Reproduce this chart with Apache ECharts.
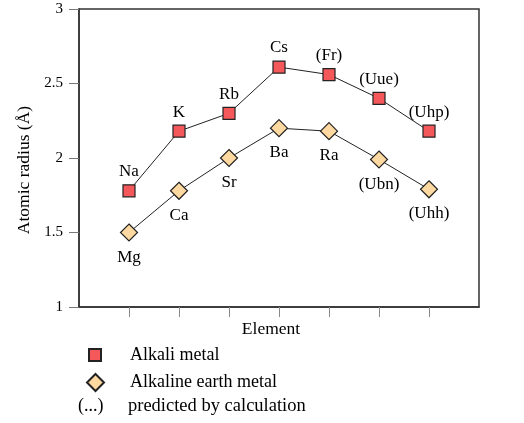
<!DOCTYPE html>
<html lang="en">
<head>
<meta charset="UTF-8">
<title>Atomic radius</title>
<script src="https://cdn.jsdelivr.net/npm/echarts@6/dist/echarts.min.js"></script>
<style>
html, body { margin: 0; padding: 0; background: #fff; }
#main { width: 524px; height: 423px; }
</style>
</head>
<body>
<div id="main"></div>
<script>
// slots 0 and 8 are empty padding on the category axis
var slots = ['', '1', '2', '3', '4', '5', '6', '7', ''];
var alkaliNames = ['Na', 'K', 'Rb', 'Cs', '(Fr)', '(Uue)', '(Uhp)'];
var alkaliRadius = [1.78, 2.18, 2.30, 2.61, 2.56, 2.40, 2.18];
var earthNames = ['Mg', 'Ca', 'Sr', 'Ba', 'Ra', '(Ubn)', '(Uhh)'];
var earthRadius = [1.50, 1.78, 2.00, 2.20, 2.18, 1.99, 1.79];

var font = 'Liberation Serif';

function toPoints(names, vals) {
    var out = [];
    for (var i = 0; i < vals.length; i++) {
        out.push({ value: [i + 1, vals[i]], name: names[i] });
    }
    return out;
}

var myChart = echarts.init(document.getElementById('main'));

var option = {
    animation: false,
    textStyle: { fontFamily: font, color: '#000' },
    grid: {
        left: 79, top: 9, width: 400, height: 298,
        show: true, borderColor: '#333', borderWidth: 1.5
    },
    legend: [
        {
            orient: 'vertical', left: 88, top: 346, padding: 0,
            itemWidth: 12, itemHeight: 12,
            data: [{ name: 'Alkali metal', icon: 'rect' }],
            textStyle: { fontFamily: font, fontSize: 18, color: '#000', padding: [0, 0, 0, 24] }
        },
        {
            orient: 'vertical', left: 86, top: 373, padding: 0,
            itemWidth: 17, itemHeight: 17,
            data: [{ name: 'Alkaline earth metal', icon: 'diamond' }],
            textStyle: { fontFamily: font, fontSize: 18, color: '#000', padding: [0, 0, 0, 21] }
        }
    ],
    graphic: [
        { type: 'text', left: 78, top: 397,
          style: { text: '(...)', font: '18px "Liberation Serif"', fill: '#000' } },
        { type: 'text', left: 128, top: 397,
          style: { text: 'predicted by calculation', font: '18.5px "Liberation Serif"', fill: '#000' } }
    ],
    xAxis: {
        type: 'category',
        data: slots,
        boundaryGap: false,
        name: 'Element',
        nameLocation: 'middle',
        nameGap: 13,
        nameTextStyle: { fontFamily: font, fontSize: 17.5, color: '#000', padding: [0, 16, 0, 0] },
        axisLine: { lineStyle: { color: '#333', width: 1.5 } },
        axisTick: {
            length: 10,
            interval: function (idx) { return idx > 0 && idx < 8; },
            lineStyle: { color: '#888' }
        },
        axisLabel: { show: false },
        splitLine: { show: false }
    },
    yAxis: {
        type: 'value',
        min: 1, max: 3, interval: 0.5,
        name: 'Atomic radius (Å)',
        nameLocation: 'middle',
        nameGap: 46,
        nameTextStyle: { fontFamily: font, fontSize: 17.5, color: '#000', padding: [0, 24, 0, 0] },
        axisLine: { show: true, lineStyle: { color: '#333', width: 1.5 } },
        axisTick: { show: true, length: 10, lineStyle: { color: '#777' } },
        axisLabel: { fontFamily: font, fontSize: 15, color: '#000', margin: 16 },
        splitLine: { show: false }
    },
    series: [
        {
            name: 'Alkali metal',
            type: 'line',
            data: toPoints(alkaliNames, alkaliRadius),
            symbol: 'rect',
            symbolSize: 12,
            lineStyle: { color: '#222', width: 1 },
            itemStyle: { color: '#f4585b', borderColor: '#222', borderWidth: 1.2 },
            label: {
                show: true, position: 'top', distance: 4,
                formatter: '{b}', fontFamily: font, fontSize: 17, color: '#000'
            },
            z: 3
        },
        {
            name: 'Alkaline earth metal',
            type: 'line',
            data: toPoints(earthNames, earthRadius),
            symbol: 'diamond',
            symbolSize: 17,
            lineStyle: { color: '#222', width: 1 },
            itemStyle: { color: '#fdd8a0', borderColor: '#222', borderWidth: 1.2 },
            label: {
                show: true, position: 'bottom', distance: 7,
                formatter: '{b}', fontFamily: font, fontSize: 17, color: '#000'
            },
            z: 2
        }
    ]
};

myChart.setOption(option);
</script>
</body>
</html>
